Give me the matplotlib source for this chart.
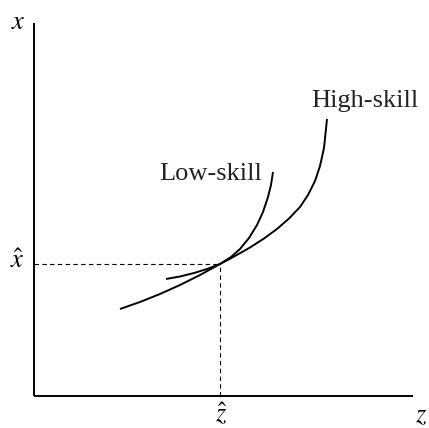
"""
Curvas de indiferencia de trabajadores de baja y alta calificación
en el plano (z, x), con el punto de cruce (ẑ, x̂).

Salida: out.png
"""

import matplotlib
matplotlib.use("Agg")
import matplotlib.pyplot as plt

# ── Datos (unidades arbitrarias) ─────────────────────────────────────
Z_LOW = [132, 146, 160, 173, 186, 197, 206, 215, 223, 229, 234, 237, 239]
X_LOW = [117, 119.5, 123, 127, 132, 139, 147, 158, 171, 184, 199, 211, 224]

Z_HIGH = [86, 106, 126, 146, 166, 186, 201, 216, 230, 243, 255, 266, 274,
          281, 286, 290, 293]
X_HIGH = [87, 94, 102, 111, 121, 132, 140, 148.5, 157.5, 167, 177.5, 189,
          201, 215, 230, 248, 277]

Z_HAT = 186
X_HAT = 132

Z_MAX = 379
X_MAX = 373

ETIQUETAS = {"low": "Low-skill", "high": "High-skill"}

plt.rcParams["mathtext.fontset"] = "stix"
SERIF = "Liberation Serif"
FS = 19


def main():
    fig = plt.figure(figsize=(4.29, 4.28), dpi=100)
    ax = fig.add_axes([0, 0, 1, 1])
    ax.set_xlim(-34, 395)
    ax.set_ylim(-32, 396)
    ax.axis("off")

    # Ejes
    ax.plot([0, Z_MAX], [0, 0], color="black", lw=1.4, solid_capstyle="butt")
    ax.plot([0, 0], [0, X_MAX], color="black", lw=1.4, solid_capstyle="butt")

    # Líneas punteadas al punto de cruce
    ax.plot([0, Z_HAT], [X_HAT, X_HAT], color="black", lw=0.8,
            linestyle=(0, (4, 3)))
    ax.plot([Z_HAT, Z_HAT], [0, X_HAT], color="black", lw=0.8,
            linestyle=(0, (4, 3)))

    # Curvas
    ax.plot(Z_LOW, X_LOW, color="black", lw=1.4, solid_capstyle="butt",
            solid_joinstyle="round")
    ax.plot(Z_HIGH, X_HIGH, color="black", lw=1.4, solid_capstyle="butt",
            solid_joinstyle="round")

    # Textos
    ax.text(228, 216, ETIQUETAS["low"], family=SERIF,
            fontsize=FS, ha="right", va="baseline", color="#222222")
    ax.text(331, 289, ETIQUETAS["high"], family=SERIF,
            fontsize=FS, ha="center", va="baseline", color="#222222")

    ax.text(-16, X_MAX + 1, r"$x$", fontsize=FS, ha="center", va="center")
    ax.text(Z_MAX + 8, -19, r"$z$", fontsize=FS, ha="center", va="center")
    ax.text(-17, X_HAT - 4, r"$\hat{x}$", fontsize=FS, ha="center",
            va="baseline")
    ax.text(Z_HAT + 1, -26, r"$\hat{z}$", fontsize=FS, ha="center",
            va="baseline")

    fig.savefig("out.png", dpi=100)
    plt.close(fig)


if __name__ == "__main__":
    main()
